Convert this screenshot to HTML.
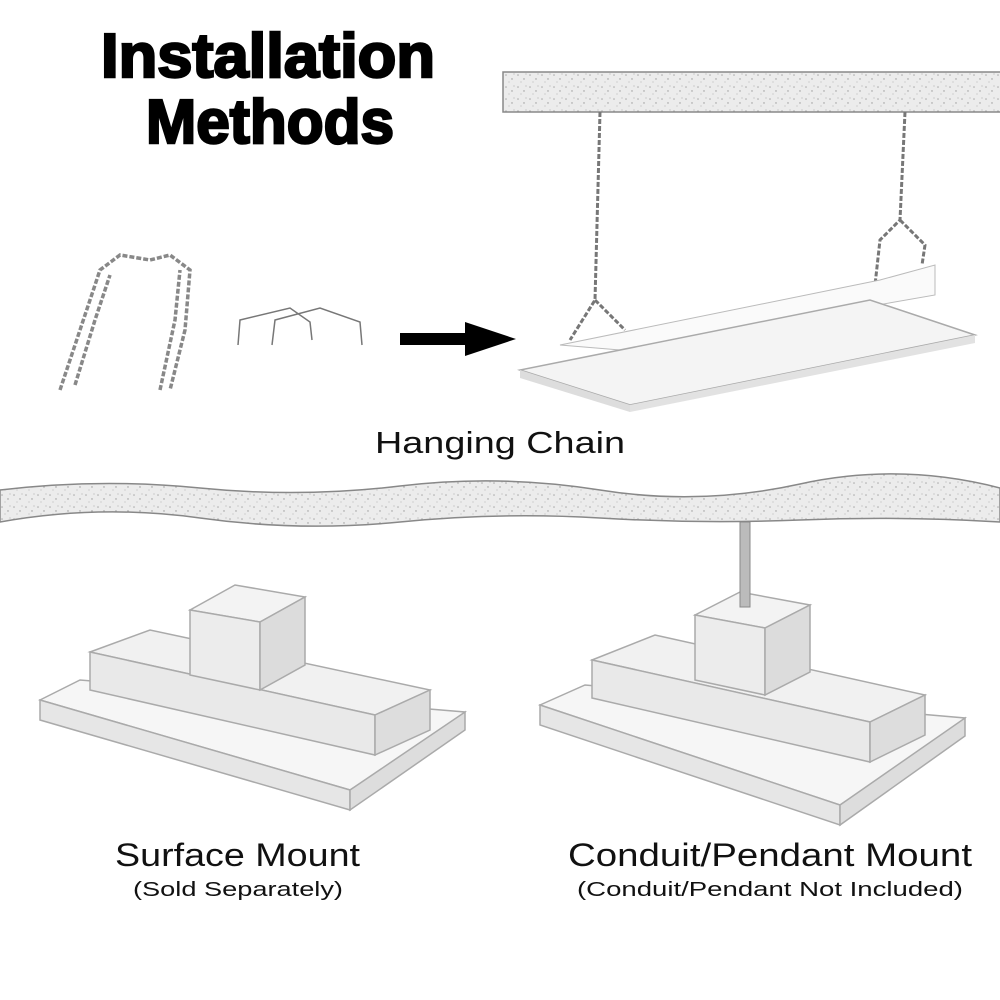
<!DOCTYPE html>
<html><head><meta charset="utf-8"><style>
html,body{margin:0;padding:0;background:#fff;}
svg{display:block;}
</style></head><body>
<svg width="1000" height="1000" viewBox="0 0 1000 1000" xmlns="http://www.w3.org/2000/svg">
<defs>
<pattern id="sp" width="12" height="12" patternUnits="userSpaceOnUse">
<rect width="12" height="12" fill="#ececec"/>
<circle cx="2" cy="3" r="0.8" fill="#aaa"/><circle cx="8" cy="7" r="0.7" fill="#999"/>
<circle cx="5" cy="10" r="0.6" fill="#bbb"/><circle cx="10" cy="2" r="0.6" fill="#b5b5b5"/>
</pattern>
</defs>
<!-- Title -->
<g font-family="Liberation Sans, sans-serif" font-weight="900" fill="#000" stroke="#000" stroke-width="2.5" text-anchor="middle">
<text x="268" y="77" font-size="62" textLength="334" lengthAdjust="spacingAndGlyphs">Installation</text>
<text x="270" y="143" font-size="62" textLength="248" lengthAdjust="spacingAndGlyphs">Methods</text>
</g>
<!-- top ceiling -->
<rect x="503" y="72" width="500" height="40" fill="url(#sp)" stroke="#888" stroke-width="1.5"/>
<!-- chains -->
<path d="M600 112 L595 300 L570 340 M595 300 L625 330" stroke="#777" stroke-width="3" fill="none" stroke-dasharray="5 2"/>
<path d="M905 112 L900 220 L880 240 L875 285 M900 220 L925 245 L922 265" stroke="#777" stroke-width="3" fill="none" stroke-dasharray="5 2"/>
<!-- hanging fixture -->
<polygon points="560,345 880,280 935,265 935,295 620,350" fill="#fafafa" stroke="#bbb"/>
<polygon points="520,370 630,405 975,335 870,300" fill="#f4f4f4" stroke="#aaa" stroke-width="1.5"/>
<polygon points="520,370 630,405 630,412 520,378" fill="#ddd"/>
<polygon points="630,405 975,335 975,343 630,412" fill="#e2e2e2"/>
<!-- chain pile -->
<path d="M60 390 L80 330 L100 270 L120 255 L150 260 L170 255 L190 270 L185 330 L170 390 M75 385 L95 320 L110 275 M160 390 L175 320 L180 270" stroke="#888" stroke-width="3.5" fill="none" stroke-dasharray="5 2"/>
<!-- hooks -->
<path d="M238 345 L240 320 L290 308 L310 322 L312 340 M272 345 L275 320 L320 308 L360 322 L362 345" stroke="#777" stroke-width="1.5" fill="none"/>
<!-- arrow -->
<rect x="400" y="333" width="70" height="12" fill="#000"/>
<polygon points="465,322 516,339 465,356" fill="#000"/>
<text x="375" y="453" font-family="Liberation Sans, sans-serif" font-size="31" fill="#111" textLength="250" lengthAdjust="spacingAndGlyphs">Hanging Chain</text>
<!-- wavy ceiling -->
<path d="M0 490 Q100 478 200 488 T400 486 T600 490 T800 484 T1000 488 L1000 522 Q900 516 800 520 T600 518 T400 522 T200 518 T0 522 Z" fill="url(#sp)" stroke="#888" stroke-width="1.5"/>
<!-- surface fixture -->
<g stroke="#aaa" stroke-width="1.5">
<polygon points="40,700 80,680 465,712 430,740 350,790" fill="#f6f6f6"/>
<polygon points="40,700 350,790 350,810 40,720" fill="#e6e6e6"/>
<polygon points="350,790 465,712 465,730 350,810" fill="#ddd"/>
<polygon points="90,652 150,630 430,690 375,715" fill="#f1f1f1"/>
<polygon points="90,652 375,715 375,755 90,690" fill="#e9e9e9"/>
<polygon points="375,715 430,690 430,730 375,755" fill="#ddd"/>
<polygon points="190,610 235,585 305,597 260,622" fill="#f3f3f3"/>
<polygon points="190,610 260,622 260,690 190,675" fill="#ececec"/>
<polygon points="260,622 305,597 305,665 260,690" fill="#dcdcdc"/>
</g>
<!-- pendant fixture -->
<g stroke="#aaa" stroke-width="1.5">
<polygon points="540,705 585,685 965,718 930,745 840,805" fill="#f6f6f6"/>
<polygon points="540,705 840,805 840,825 540,725" fill="#e6e6e6"/>
<polygon points="840,805 965,718 965,736 840,825" fill="#ddd"/>
<polygon points="592,660 655,635 925,695 870,722" fill="#f1f1f1"/>
<polygon points="592,660 870,722 870,762 592,698" fill="#e9e9e9"/>
<polygon points="870,722 925,695 925,735 870,762" fill="#ddd"/>
<polygon points="695,615 740,592 810,605 765,628" fill="#f3f3f3"/>
<polygon points="695,615 765,628 765,695 695,680" fill="#ececec"/>
<polygon points="765,628 810,605 810,672 765,695" fill="#dcdcdc"/>
</g>
<rect x="740" y="522" width="10" height="85" fill="#bbb" stroke="#888"/>
<g font-family="Liberation Sans, sans-serif" fill="#111">
<text x="115" y="866" font-size="32" textLength="245" lengthAdjust="spacingAndGlyphs">Surface Mount</text>
<text x="133" y="896" font-size="20" textLength="210" lengthAdjust="spacingAndGlyphs">(Sold Separately)</text>
<text x="568" y="866" font-size="32" textLength="404" lengthAdjust="spacingAndGlyphs">Conduit/Pendant Mount</text>
<text x="577" y="896" font-size="20" textLength="386" lengthAdjust="spacingAndGlyphs">(Conduit/Pendant Not Included)</text>
</g>
</svg>
</body></html>
